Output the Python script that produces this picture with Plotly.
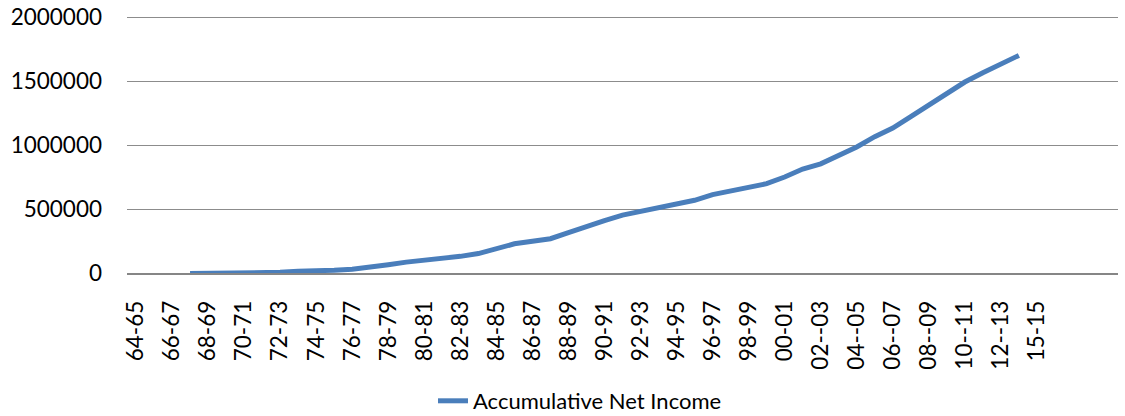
import plotly.graph_objects as go

categories = [
    "64-65", "65-66", "66-67", "67-68", "68-69", "69-70", "70-71", "71-72", "72-73", "73-74",
    "74-75", "75-76", "76-77", "77-78", "78-79", "79-80", "80-81", "81-82", "82-83", "83-84",
    "84-85", "85-86", "86-87", "87-88", "88-89", "89-90", "90-91", "91-92", "92-93", "93-94",
    "94-95", "95-96", "96-97", "97-98", "98-99", "99-00", "00-01", "01-02", "02--03", "03--04",
    "04--05", "05--06", "06--07", "07--08", "08--09", "09--10", "10--11", "11--12", "12--13", "13--14",
    "15-15", "", "", "", "",
]

net_income = [
    None, None, None, -3000, -3000, 2000, 2000, 3000, 5000, 13000,
    15000, 22000, 30000, 45000, 65000, 85000, 97000, 110000, 130000, 152000,
    190000, 228000, 248000, 268000, 315000, 365000, 410000, 452000, 481000, 511000,
    533000, 568000, 612000, 643000, 673000, 698000, 750000, 812000, 853000, 915000,
    985000, 1065000, 1132000, 1222000, 1315000, 1405000, 1492000, 1565000, 1635000, 1700000,
    None, None, None, None, None,
]

series_name = "Accumulative Net Income"
y_ticks = [0, 500000, 1000000, 1500000, 2000000]

x_pos = list(range(len(categories)))
tick_idx = x_pos[::2]

FONT = "Lato, 'Open Sans', sans-serif"

W, H = 1125, 416
TOP, BOTTOM = 14, 143
plot_h = H - TOP - BOTTOM          # 259 px; 2,000,000 spans 256 px of it
y_max = y_ticks[-1] * plot_h / 256  # a little headroom so the top gridline is drawn

fig = go.Figure()
fig.add_trace(go.Scatter(
    x=x_pos, y=net_income, mode="lines", name=series_name,
    line=dict(color="#4A7EBB", width=5), connectgaps=False,
))

fig.update_layout(
    width=W, height=H,
    margin=dict(l=127, r=7, t=TOP, b=BOTTOM, pad=0, autoexpand=False),
    paper_bgcolor="white", plot_bgcolor="white",
    font=dict(family=FONT, size=22.5, color="#000000"),
    showlegend=True,
    legend=dict(
        orientation="h", xref="container", yref="container",
        x=580 / W, xanchor="center", y=(H - 401) / H, yanchor="middle",
        font=dict(family=FONT, size=22, color="#000000"),
        bgcolor="rgba(0,0,0,0)",
    ),
    xaxis=dict(
        automargin=False,
        range=[-0.5, len(categories) - 0.5],
        tickmode="array", tickvals=tick_idx, ticktext=[categories[i] for i in tick_idx],
        tickangle=-90, showgrid=False, zeroline=False,
        showline=True, linecolor="#868686", linewidth=1.5,
        ticks="", ticklabelstandoff=17, ticklabeloverflow="allow",
        tickfont=dict(family=FONT, size=22.5, color="#000000"),
    ),
    yaxis=dict(
        automargin=False,
        range=[0, y_max], tickmode="array", tickvals=y_ticks,
        ticktext=[str(v) for v in y_ticks],
        showgrid=True, gridcolor="#8C8C8C", gridwidth=1,
        zeroline=False, showline=False, ticks="", ticklabelstandoff=24,
        ticklabeloverflow="allow",
        tickfont=dict(family=FONT, size=22.5, color="#000000"),
    ),
)

# remove the browser's default 8px body margin so the figure fills the window
fig.write_html(
    "out.html",
    config={"displayModeBar": False},
    post_script="document.body.style.margin='0';document.body.style.overflow='hidden';",
)
